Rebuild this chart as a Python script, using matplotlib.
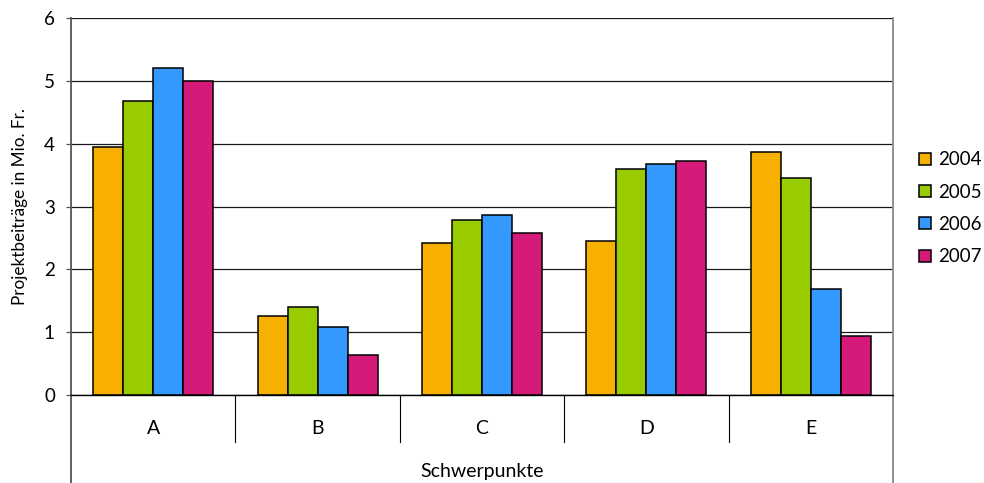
import matplotlib
matplotlib.use("Agg")
import matplotlib.pyplot as plt
import numpy as np
from matplotlib.lines import Line2D
import matplotlib.transforms as mtransforms

plt.rcParams['font.family'] = ['Lato', 'DejaVu Sans']

categories = ["A", "B", "C", "D", "E"]
years = ["2004", "2005", "2006", "2007"]
values_2004 = [3.95, 1.26, 2.42, 2.45, 3.86]
values_2005 = [4.68, 1.40, 2.79, 3.60, 3.46]
values_2006 = [5.20, 1.08, 2.86, 3.68, 1.68]
values_2007 = [5.00, 0.64, 2.58, 3.73, 0.94]
series = [values_2004, values_2005, values_2006, values_2007]
colors = ["#F8B000", "#99CC00", "#3399FF", "#D61A7A"]

W, H = 984, 483
fig = plt.figure(figsize=(W / 100, H / 100), dpi=100)
left, right, top, bottom = 71, 893, 18, 395
ax = fig.add_axes([left / W, 1 - bottom / H, (right - left) / W, (bottom - top) / H])

n = len(categories)
x = np.arange(n) + 0.5
bar_w = 0.1825
for i, (vals, col, yr) in enumerate(zip(series, colors, years)):
    ax.bar(x + (i - 1.5) * bar_w, vals, width=bar_w, color=col,
           edgecolor="black", linewidth=1.1, label=yr, zorder=3)

ax.set_xlim(0, n)
ax.set_ylim(0, 6)
ax.set_yticks(range(0, 7))
ax.yaxis.grid(True, color="#1a1a1a", linewidth=0.9, zorder=0)
ax.set_axisbelow(True)

for s in ["top", "bottom"]:
    ax.spines[s].set_visible(False)
ax.spines["left"].set_color("#555555")
ax.spines["left"].set_linewidth(1.3)
ax.spines["right"].set_color("#888888")
ax.spines["right"].set_linewidth(1.3)

ax.tick_params(axis="y", direction="out", length=3.6, width=0.9, color="#555555",
               labelsize=13.5, pad=8)
ax.set_xticks(x)
ax.set_xticklabels(categories, fontsize=14)
ax.tick_params(axis="x", length=0, pad=18)

# frame lines extending below the plotting area
trans = mtransforms.blended_transform_factory(ax.transData, ax.transAxes)
axis_h = bottom - top
y_bottom = -(H - bottom) / axis_h
y_sep = -(441.7 - bottom) / axis_h
ax.add_line(Line2D([0, n], [0, 0], transform=trans, color="black", lw=1.0,
                   clip_on=False, zorder=4))
ax.add_line(Line2D([0, 0], [0, y_bottom], transform=trans, color="#555555", lw=1.3,
                   clip_on=False))
ax.add_line(Line2D([n, n], [0, y_bottom], transform=trans, color="#888888", lw=1.3,
                   clip_on=False))
for k in range(1, n):
    ax.add_line(Line2D([k, k], [0, y_sep], transform=trans, color="black", lw=0.8,
                       clip_on=False))

fig.text((left + right) / 2 / W, 1 - 472 / H, "Schwerpunkte", ha="center",
         va="center", fontsize=14)
fig.text(20 / W, 1 - 207 / H, "Projektbeiträge in Mio. Fr.", rotation=90,
         ha="center", va="center", fontsize=12.3)

fig.legend(loc="center left", bbox_to_anchor=(919 / W, 1 - 208.3 / H),
           frameon=False, fontsize=13.5, handlelength=0.62, handleheight=0.62,
           handletextpad=0.42, labelspacing=0.82, borderpad=0, borderaxespad=0)

fig.savefig("out.png", dpi=100)
